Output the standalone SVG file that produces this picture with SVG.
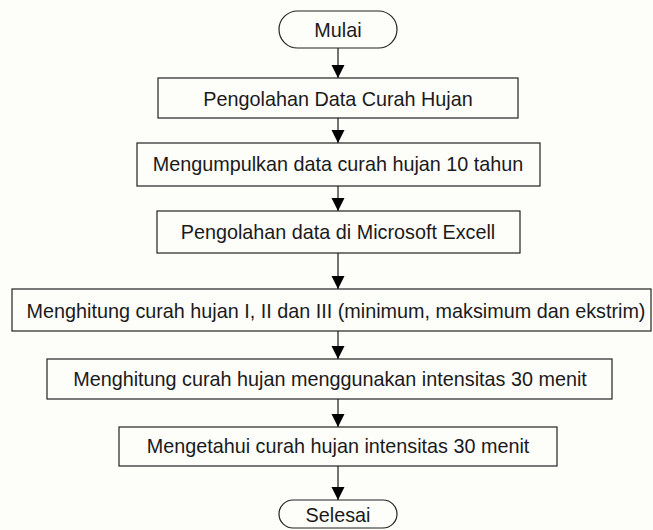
<svg xmlns="http://www.w3.org/2000/svg" width="653" height="530" viewBox="0 0 653 530">
<defs>
<marker id="ah" markerUnits="userSpaceOnUse" markerWidth="14" markerHeight="14" refX="13" refY="6.5" orient="auto">
<path d="M0,0 L13,6.5 L0,13 z" fill="#000"/>
</marker>
</defs>
<style>
.box{fill:none;stroke:#222;stroke-width:1.2}
.t{font-family:"Liberation Sans",Arial,sans-serif;font-size:19.8px;fill:#1a1a1a;text-anchor:middle}
.c{stroke:#444;stroke-width:1.5;fill:none;marker-end:url(#ah)}
</style>
<rect width="653" height="530" fill="#fdfdfa"/>
<g id="connectors">
<line class="c" x1="338" y1="48" x2="338" y2="78"/>
<line class="c" x1="338" y1="118" x2="338" y2="143"/>
<line class="c" x1="338" y1="186" x2="338" y2="211"/>
<line class="c" x1="338" y1="253" x2="338" y2="289"/>
<line class="c" x1="338" y1="331" x2="338" y2="359"/>
<line class="c" x1="338" y1="399" x2="338" y2="427"/>
<line class="c" x1="338" y1="466" x2="338" y2="500"/>
</g>
<g id="start"><rect class="box" x="279" y="11" width="118" height="37" rx="18.5"/><text class="t" x="338" y="36.5">Mulai</text></g>
<g id="n1"><rect class="box" x="158" y="78" width="360" height="40"/><text class="t" x="338" y="106">Pengolahan Data Curah Hujan</text></g>
<g id="n2"><rect class="box" x="137" y="143" width="403" height="43"/><text class="t" x="338" y="171">Mengumpulkan data curah hujan 10 tahun</text></g>
<g id="n3"><rect class="box" x="157" y="211" width="363" height="42"/><text class="t" x="338" y="239">Pengolahan data di Microsoft Excell</text></g>
<g id="n4"><rect class="box" x="12" y="289" width="639" height="42"/><text class="t" x="336" y="317.5">Menghitung curah hujan I, II dan III (minimum, maksimum dan ekstrim)</text></g>
<g id="n5"><rect class="box" x="47" y="359" width="565" height="40"/><text class="t" x="330" y="386">Menghitung curah hujan menggunakan intensitas 30 menit</text></g>
<g id="n6"><rect class="box" x="119" y="427" width="438" height="39"/><text class="t" x="338" y="453">Mengetahui curah hujan intensitas 30 menit</text></g>
<g id="end"><rect class="box" x="279" y="500" width="118" height="28" rx="14"/><text class="t" x="338" y="521.5">Selesai</text></g>
</svg>
